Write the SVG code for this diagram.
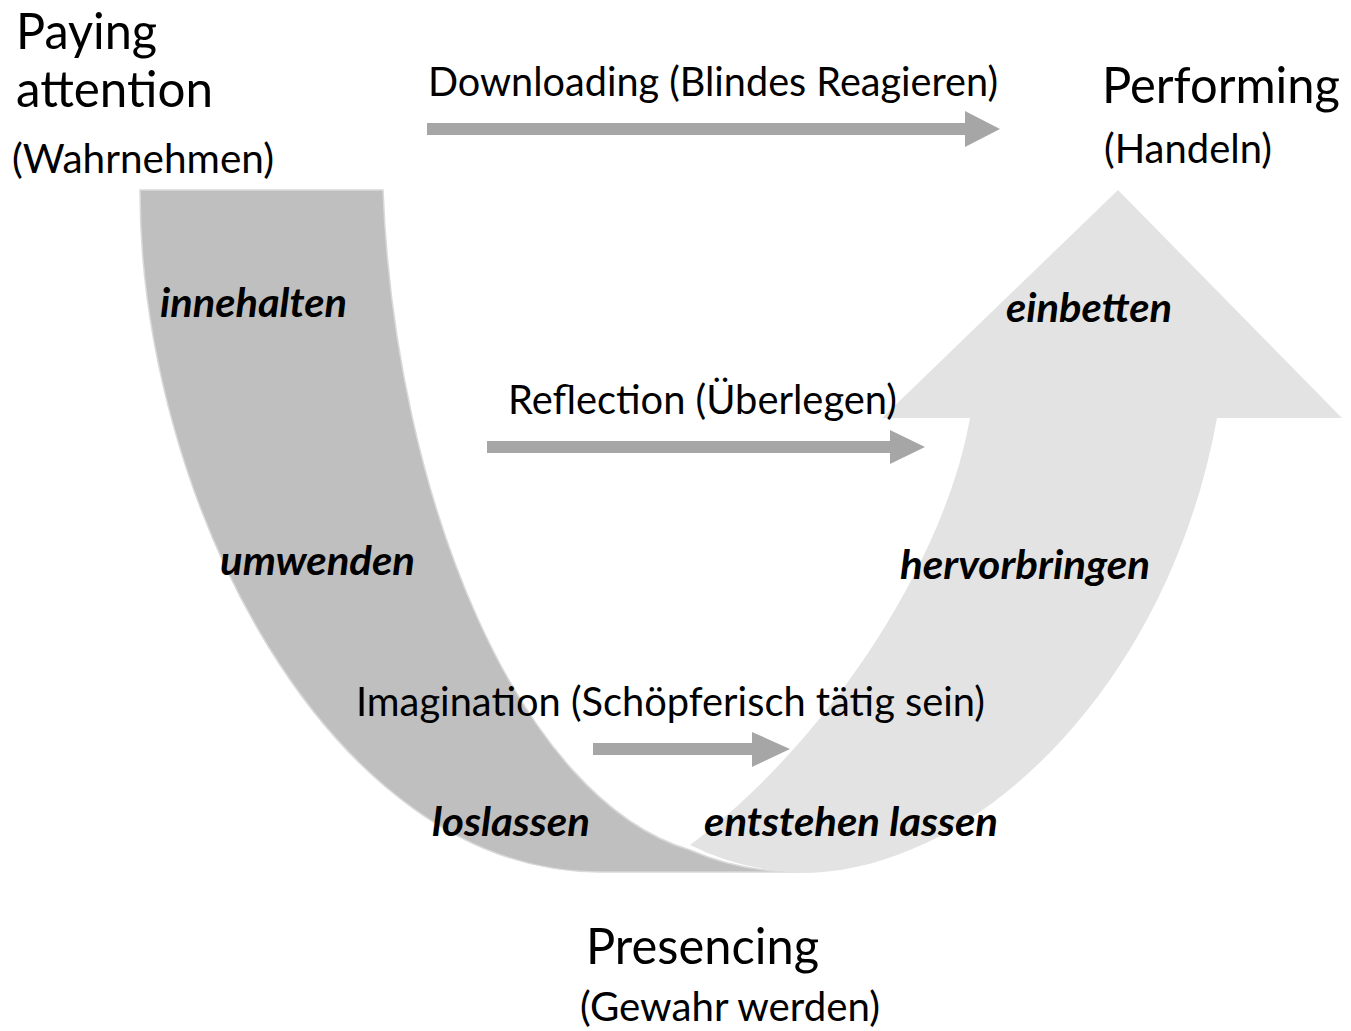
<svg xmlns="http://www.w3.org/2000/svg" width="1351" height="1031" viewBox="0 0 1351 1031">
<style>
text{font-family:Lato,"Liberation Sans",sans-serif;fill:#000}
.big{font-size:50px}
.mid{font-size:41px}
.lab{font-size:40px;font-weight:bold;font-style:italic}
.arr{fill:#a6a6a6}
</style>
<rect width="1351" height="1031" fill="#fff"/>
<g id="band-left">
<path d="M140,190 L383,190 C395,500 520,800 690,850 Q740,872 800,872 L600,872 C330,872 140,500 140,190 Z" fill="#bfbfbf" stroke="#d9d9d9" stroke-width="1.5"/>
</g>
<g id="band-right">
<path d="M882,418 L1118,190 L1342,418 L1217,418 C1170,680 980,873 800,873 Q740,870 690,845 C830,740 945,560 970,418 Z" fill="#e3e3e3"/>
</g>
<g id="connectors">
<path class="arr" d="M427,123 L965,123 L965,111 L1000,129 L965,147 L965,135 L427,135 Z"/>
<path class="arr" d="M487,441 L890,441 L890,430 L925,447 L890,464 L890,453 L487,453 Z"/>
<path class="arr" d="M593,743 L752,743 L752,732 L790,749 L752,767 L752,755 L593,755 Z"/>
</g>
<g id="node-paying">
<text class="big" x="16" y="49" textLength="141" lengthAdjust="spacingAndGlyphs">Paying</text>
<text class="big" x="16" y="107" textLength="197" lengthAdjust="spacingAndGlyphs">attention</text>
<text class="mid" x="12" y="173" textLength="262" lengthAdjust="spacingAndGlyphs">(Wahrnehmen)</text>
</g>
<g id="node-performing">
<text class="big" x="1102" y="103" textLength="238" lengthAdjust="spacingAndGlyphs">Performing</text>
<text class="mid" x="1104" y="163" textLength="168" lengthAdjust="spacingAndGlyphs">(Handeln)</text>
</g>
<g id="node-presencing">
<text class="big" x="586" y="964" textLength="233" lengthAdjust="spacingAndGlyphs">Presencing</text>
<text class="mid" x="580" y="1021" textLength="300" lengthAdjust="spacingAndGlyphs">(Gewahr werden)</text>
</g>
<g id="labels-connectors">
<text class="mid" x="428" y="96" textLength="570" lengthAdjust="spacingAndGlyphs">Downloading (Blindes Reagieren)</text>
<text class="mid" x="508" y="414" textLength="389" lengthAdjust="spacingAndGlyphs">Reflection (Überlegen)</text>
<text class="mid" x="356" y="716" textLength="629" lengthAdjust="spacingAndGlyphs">Imagination (Schöpferisch tätig sein)</text>
</g>
<g id="labels-steps">
<text class="lab" x="160" y="317" textLength="187" lengthAdjust="spacingAndGlyphs">innehalten</text>
<text class="lab" x="220" y="575" textLength="195" lengthAdjust="spacingAndGlyphs">umwenden</text>
<text class="lab" x="432" y="836" textLength="158" lengthAdjust="spacingAndGlyphs">loslassen</text>
<text class="lab" x="704" y="836" textLength="294" lengthAdjust="spacingAndGlyphs">entstehen lassen</text>
<text class="lab" x="900" y="579" textLength="250" lengthAdjust="spacingAndGlyphs">hervorbringen</text>
<text class="lab" x="1006" y="322" textLength="166" lengthAdjust="spacingAndGlyphs">einbetten</text>
</g>
</svg>
